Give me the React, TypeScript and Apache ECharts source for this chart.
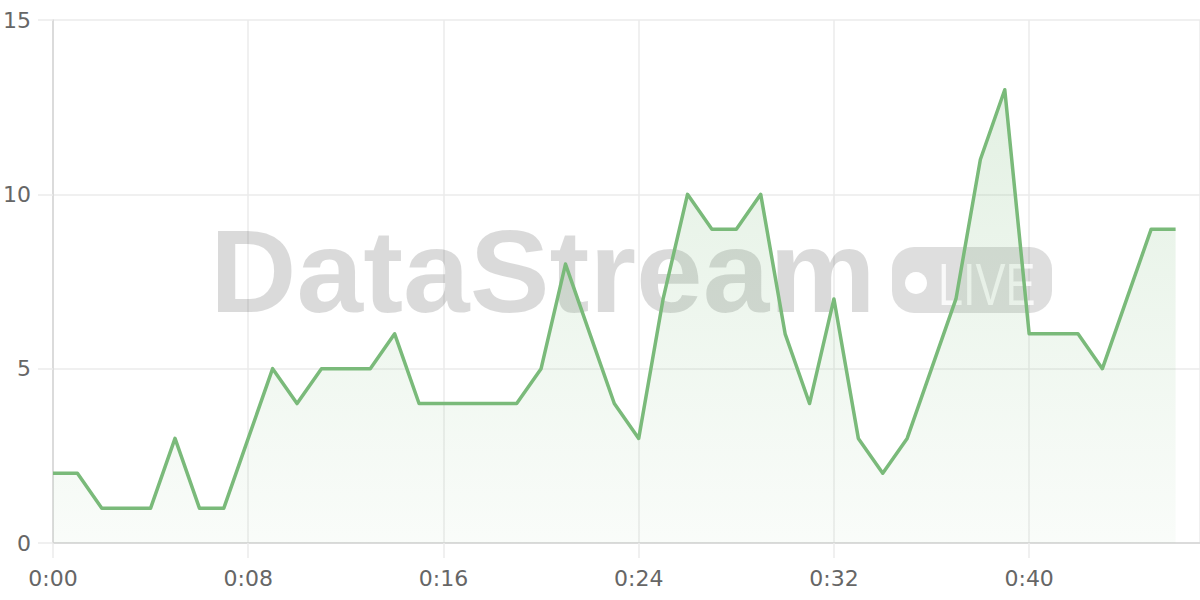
import { useEffect, useRef } from 'react';
import * as echarts from 'echarts';

// ─── Data ─────────────────────────────────────────────────────────────────────

// one reading per minute, 0:00 … 0:46
const minutes: number[] = [
  0, 1, 2, 3, 4, 5, 6, 7, 8, 9, 10, 11, 12, 13, 14, 15, 16, 17, 18, 19, 20, 21, 22, 23,
  24, 25, 26, 27, 28, 29, 30, 31, 32, 33, 34, 35, 36, 37, 38, 39, 40, 41, 42, 43, 44, 45, 46,
];
const counts: number[] = [
  2, 2, 1, 1, 1, 3, 1, 1, 3, 5, 4, 5, 5, 5, 6, 4, 4, 4, 4, 4, 5, 8, 6, 4,
  3, 7, 10, 9, 9, 10, 6, 4, 7, 3, 2, 3, 5, 7, 11, 13, 6, 6, 6, 5, 7, 9, 9,
];
const yTicks = { min: 0, max: 15, interval: 5 };
const xTicks = { min: 0, max: 47, interval: 8 };

const brandText = 'DataStream';
const liveText = 'LIVE';

// ─── Styling ──────────────────────────────────────────────────────────────────

const LINE = '#7aba7a';
const GRID = '#ebebeb';
const AXIS = '#d4d4d4';
const LABEL = '#666666';
const FONT = '"DejaVu Sans", "Liberation Sans", sans-serif';

function fmtMinute(v: number): string {
  const m = Math.round(v);
  return `0:${String(m).padStart(2, '0')}`;
}

function buildOption(): echarts.EChartsOption {
  return {
    animation: false,
    backgroundColor: '#ffffff',
    grid: { left: 52, right: 0, top: 20, bottom: 57, containLabel: false },
    xAxis: {
      type: 'value',
      min: xTicks.min,
      max: xTicks.max,
      interval: xTicks.interval,
      axisLine: { show: true, lineStyle: { color: AXIS, width: 1.5 } },
      axisTick: { show: true, length: 15, lineStyle: { color: GRID, width: 1.5 } },
      axisLabel: {
        color: LABEL,
        fontSize: 22,
        fontFamily: FONT,
        margin: 24,
        showMaxLabel: false,
        formatter: (v: number) => fmtMinute(v),
      },
      splitLine: { show: true, lineStyle: { color: GRID, width: 1.5 } },
    },
    yAxis: {
      type: 'value',
      min: yTicks.min,
      max: yTicks.max,
      interval: yTicks.interval,
      axisLine: { show: true, lineStyle: { color: AXIS, width: 1.5 } },
      axisTick: { show: true, length: 15, lineStyle: { color: GRID, width: 1.5 } },
      axisLabel: {
        color: LABEL,
        fontSize: 22,
        fontFamily: FONT,
        margin: 22,
        align: 'right',
      },
      splitLine: { show: true, lineStyle: { color: GRID, width: 1.5 } },
    },
    graphic: [
      {
        type: 'text',
        z: 1,
        x: 210,
        y: 272,
        scaleX: 1.033,
        silent: true,
        style: {
          text: brandText,
          fill: 'rgba(0,0,0,0.145)',
          font: 'bold 116px "Liberation Sans", Arial, sans-serif',
          align: 'left',
          verticalAlign: 'middle',
        },
      },
      {
        type: 'rect',
        z: 1,
        silent: true,
        shape: { x: 892, y: 247, width: 160, height: 66, r: 22 },
        style: { fill: 'rgba(0,0,0,0.13)' },
      },
      {
        type: 'circle',
        z: 1,
        silent: true,
        shape: { cx: 916, cy: 283, r: 11 },
        style: { fill: '#ffffff' },
      },
      {
        type: 'text',
        z: 1,
        x: 938,
        y: 284,
        scaleX: 0.75,
        silent: true,
        style: {
          text: liveText,
          fill: 'rgba(255,255,255,0.8)',
          font: '60px "Liberation Sans", Arial, sans-serif',
          align: 'left',
          verticalAlign: 'middle',
        },
      },
    ],
    series: [
      {
        type: 'line',
        data: minutes.map((m, i) => [m, counts[i]]),
        showSymbol: false,
        symbol: 'none',
        z: 3,
        lineStyle: { color: LINE, width: 3.5, join: 'round' },
        areaStyle: {
          color: new echarts.graphic.LinearGradient(0, 0, 0, 1, [
            { offset: 0, color: 'rgba(122,186,122,0.30)' },
            { offset: 1, color: 'rgba(122,186,122,0.06)' },
          ]),
        },
      },
    ],
  };
}

// ─── Component ────────────────────────────────────────────────────────────────

export default function App() {
  const containerRef = useRef<HTMLDivElement>(null);

  useEffect(() => {
    if (!containerRef.current) return;
    const chart = echarts.init(containerRef.current, null, { renderer: 'svg' });
    chart.setOption(buildOption());
    return () => chart.dispose();
  }, []);

  return (
    <div
      ref={containerRef}
      style={{ position: 'fixed', left: 0, top: 0, width: 1200, height: 600, background: '#fff' }}
    />
  );
}
